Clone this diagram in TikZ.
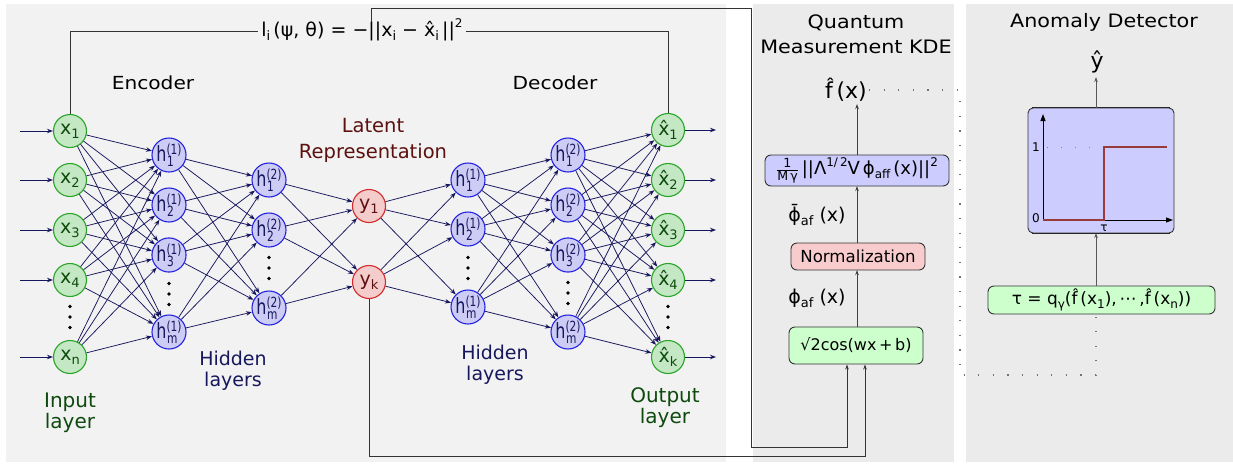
\documentclass[tikz,border=0pt]{standalone}
\usepackage{fontspec}
\usepackage{amsmath}
\setmainfont{DejaVu Sans}
\newfontfamily\wfont[FakeStretch=1.12]{DejaVu Sans}
\newfontfamily\cfont[FakeStretch=0.76]{DejaVu Sans}
\usetikzlibrary{arrows.meta}
\definecolor{pnlA}{HTML}{F2F2F2}
\definecolor{pnlB}{HTML}{EBEBEB}
\definecolor{gfill}{HTML}{C4E8C4}
\definecolor{gline}{HTML}{2AA52A}
\definecolor{bfill}{HTML}{CCCCF5}
\definecolor{bline}{HTML}{2323E0}
\definecolor{rfill}{HTML}{F4CCCC}
\definecolor{rline}{HTML}{D42A2A}
\definecolor{navy}{HTML}{17175E}
\definecolor{dgreen}{HTML}{0E4A0E}
\definecolor{dred}{HTML}{5C1010}
\definecolor{lav}{HTML}{CCCCFF}
\definecolor{pinkb}{HTML}{F8CCCC}
\definecolor{greenb}{HTML}{CCFFCC}
\definecolor{stepred}{HTML}{9A3B3B}
\newcommand{\lox}[2][13]{\raisebox{-0.2em}{\fontsize{#1}{#1}\selectfont #2}}
\newcommand{\upx}[2][12]{\raisebox{0.45em}{\fontsize{#1}{#1}\selectfont #2}}
\newcommand{\hlab}[2]{{\cfont h\rlap{\raisebox{-0.22em}{\fontsize{14}{14}\selectfont\kern0.5pt #2}}\raisebox{0.36em}{\fontsize{14}{14}\selectfont(#1)}}}
\newcommand{\vd}[2]{\foreach \dd in {-1,0,1}{\fill ({#1},{#2+10.5*\dd}) circle (1.9);}}
\begin{document}
\begin{tikzpicture}[x=1pt,y=-1pt,
 neuron/.style={circle,minimum size=33pt,inner sep=0pt,line width=1.1pt},
 gn/.style={neuron,fill=gfill,draw=gline,text=dgreen,font=\fontsize{19}{19}\selectfont},
 bn/.style={neuron,minimum size=34pt,fill=bfill,draw=bline,text=navy,font=\fontsize{21}{21}\selectfont},
 rn/.style={neuron,fill=rfill,draw=rline,text=dred,font=\fontsize{19}{19}\selectfont},
 net/.style={draw=navy,line width=0.75pt,-{Stealth[length=6pt,width=4.5pt]}},
 io/.style={draw=navy,line width=1pt,-{Stealth[length=6pt,width=4.5pt]}},
 lbl/.style={align=center,inner sep=0pt},
 mbox/.style={draw=black!80,rounded corners=6pt,line width=0.9pt,inner sep=0pt},
 arr/.style={draw=black!75,line width=0.9pt,-{Stealth[length=5pt,width=3.5pt]}},
 loopl/.style={draw=black!80,line width=0.85pt},
 dotl/.style={draw=black!55,line width=1.1pt,dash pattern=on 1.1pt off 13.5pt},
]
\useasboundingbox (0,0) rectangle (1233,464);
\fill[pnlA] (6,4) rectangle (726,462);
\fill[pnlB] (753,4) rectangle (954,462);
\fill[pnlB] (966,4) rectangle (1233,462);

% ---- network nodes
\node[gn] (i1) at (70,131) {x\lox{1}};
\node[gn] (i2) at (70,180) {x\lox{2}};
\node[gn] (i3) at (70,230) {x\lox{3}};
\node[gn] (i4) at (70,280) {x\lox{4}};
\node[gn] (i5) at (70,357) {x\lox{n}};
\vd{70}{317}
\node[bn] (a1) at (169,155) {\hlab{1}{1}};
\node[bn] (a2) at (169,205) {\hlab{1}{2}};
\node[bn] (a3) at (169,255) {\hlab{1}{3}};
\node[bn] (a4) at (169,332) {\hlab{1}{m}};
\vd{169}{294}
\node[bn] (b1) at (269,180) {\hlab{2}{1}};
\node[bn] (b2) at (269,230) {\hlab{2}{2}};
\node[bn] (b3) at (269,308) {\hlab{2}{m}};
\vd{269}{268}
\node[rn] (y1) at (369,206) {y\lox{1}};
\node[rn] (y2) at (369,282) {y\lox{k}};
\node[bn] (c1) at (468,180) {\hlab{1}{1}};
\node[bn] (c2) at (468,229) {\hlab{1}{2}};
\node[bn] (c3) at (468,307) {\hlab{1}{m}};
\vd{468}{268}
\node[bn] (d1) at (568,155) {\hlab{2}{1}};
\node[bn] (d2) at (568,205) {\hlab{2}{2}};
\node[bn] (d3) at (568,255) {\hlab{2}{3}};
\node[bn] (d4) at (568,332) {\hlab{2}{m}};
\vd{568}{293}
\node[gn] (o1) at (668,130) {\^x\lox{1}};
\node[gn] (o2) at (668,180) {\^x\lox{2}};
\node[gn] (o3) at (668,230) {\^x\lox{3}};
\node[gn] (o4) at (668,280) {\^x\lox{4}};
\node[gn] (o5) at (668,357) {\^x\lox{k}};
\vd{668}{317}

% ---- connections
\foreach \a in {1,...,5}{\foreach \b in {1,...,4}{\draw[net] (i\a) -- (a\b);}}
\foreach \a in {1,...,4}{\foreach \b in {1,2,3}{\draw[net] (a\a) -- (b\b);}}
\foreach \a in {1,2,3}{\foreach \b in {1,2}{\draw[net] (b\a) -- (y\b);}}
\foreach \a in {1,2}{\foreach \b in {1,2,3}{\draw[net] (y\a) -- (c\b);}}
\foreach \a in {1,2,3}{\foreach \b in {1,...,4}{\draw[net] (c\a) -- (d\b);}}
\foreach \a in {1,...,4}{\foreach \b in {1,...,5}{\draw[net] (d\a) -- (o\b);}}
\foreach \a/\y in {1/131,2/180,3/230,4/280,5/357}{
  \coordinate (s\a) at (20,\y);
  \draw[io] (s\a) -- (i\a.west);}
\foreach \a/\y in {1/130,2/180,3/230,4/280,5/357}{
  \coordinate (t\a) at (716,\y);
  \draw[io] (o\a.east) -- (t\a);}

% ---- labels
\node[lbl,font=\wfont\fontsize{18}{18}\selectfont] (enc) at (153,83) {Encoder};
\node[lbl,font=\wfont\fontsize{18}{18}\selectfont] (dec) at (555,83) {Decoder};
\node[lbl,text=dred,font=\fontsize{19.5}{26}\selectfont] (lat) at (373,140) {Latent\\Representation};
\node[lbl,text=navy,font=\fontsize{19}{21}\selectfont] (hid1) at (233,371) {Hidden\\layers};
\node[lbl,text=navy,font=\fontsize{19}{21}\selectfont] (hid2) at (495,365) {Hidden\\layers};
\node[lbl,text=dgreen,font=\fontsize{20}{21}\selectfont] (inl) at (70,413) {Input\\layer};
\node[lbl,text=dgreen,font=\fontsize{20}{21}\selectfont] (outl) at (665,408) {Output\\layer};

% ---- loss loop
\node[inner sep=3pt,font=\fontsize{19}{19}\selectfont] (loss) at (362,30)
  {l\lox[13]{i}\,(ψ, θ) = −||x\lox[13]{i} − \^x\lox[13]{i}\,||\upx{2}};
\coordinate (k1) at (70,31);
\coordinate (k2) at (668,31);
\draw[loopl] (i1.north) -- (k1) -- (k1 -| loss.west);
\draw[loopl] (k2 -| loss.east) -- (k2) -- (o1.north);

% ---- middle panel
\node[lbl,font=\wfont\fontsize{18.5}{25}\selectfont] (qt) at (856,34) {Quantum\\Measurement KDE};
\node[font=\fontsize{22}{22}\selectfont,inner sep=2pt] (fh) at (846,90) {\^f\,(x)};
\node[mbox,fill=lav,minimum width=184pt,minimum height=31pt,font=\fontsize{18}{18}\selectfont] (kde) at (857,170.5)
  {$\frac{\text{1}}{\text{M\,γ}}$\,||Λ\upx[12]{1/\,2}V\,ϕ\lox[12]{aff}\,(x)||\upx[12]{2}};
\node[font=\fontsize{19}{19}\selectfont] (pb) at (817,215) {\={ϕ}\lox[13]{af}\ (x)};
\node[mbox,fill=pinkb,minimum width=134pt,minimum height=27pt,font=\fontsize{16.6}{17}\selectfont] (norm) at (858,256.5) {Normalization};
\node[font=\fontsize{19}{19}\selectfont] (pa) at (817,298) {ϕ\lox[13]{af}\ (x)};
\node[mbox,fill=greenb,minimum width=134pt,minimum height=37pt,font=\fontsize{16}{17}\selectfont] (cosb) at (856,345.5) {√2cos(wx\,+\,b)};
\draw[arr] (857,327) -- (857,270);
\draw[arr] (857,243) -- (857,186);
\draw[arr] (857,155) -- (857,104);

% ---- feedback lines
\coordinate (f0) at (371,22);
\coordinate (f1) at (371,8);
\coordinate (f2) at (751,8);
\coordinate (f3) at (751,447);
\coordinate (f4) at (847,447);
\draw[loopl,-{Stealth[length=5pt,width=3.5pt]}] (f0) -- (f1) -- (f2) -- (f3) -- (f4) -- (f4 |- cosb.south);
\coordinate (g1) at (369,456);
\coordinate (g2) at (865,456);
\draw[loopl,-{Stealth[length=5pt,width=3.5pt]}] (y2.south) -- (g1) -- (g2) -- (g2 |- cosb.south);

% ---- right panel
\node[lbl,font=\wfont\fontsize{18.5}{19}\selectfont] (ad) at (1104,22) {Anomaly Detector};
\node[font=\fontsize{22}{22}\selectfont,inner sep=1pt] (yh) at (1097,62) {ŷ};
\node[mbox,fill=lav,minimum width=146pt,minimum height=125pt,rounded corners=5pt] (plot) at (1101,170.5) {};
\draw[black!85,line width=1.3pt] ([xshift=4pt]plot.north west) -- ([xshift=-4pt]plot.north east);
\draw[black!85,line width=1.3pt] ([xshift=4pt]plot.south west) -- ([xshift=-4pt]plot.south east);
\node[mbox,fill=greenb,minimum width=227pt,minimum height=28pt,font=\fontsize{17}{17}\selectfont] (tau) at (1101.5,300)
  {τ = q\lox[12]{γ}(\^f\,(x\lox[12]{1}),\,⋯\,,\^f\,(x\lox[12]{n}))};
\coordinate (O) at (1043,220);
\coordinate (YA) at (1043,114);
\coordinate (XA) at (1173,220);
\draw[line width=1pt,-{Triangle[length=7pt,width=5pt]}] (O) -- (YA);
\draw[line width=1pt,-{Triangle[length=7pt,width=5pt]}] (O) -- (XA);
\draw[black!50,line width=1pt,dash pattern=on 1pt off 13pt] (1047,147) -- (1102,147);
\draw[stepred,line width=1.2pt] (O) -- (1104,220) -- (1104,147) -- (1167,147);
\node[font=\fontsize{12}{12}\selectfont,inner sep=0pt] (one) at (1036,147) {1};
\node[font=\fontsize{12}{12}\selectfont,inner sep=0pt] (zero) at (1036,218) {0};
\node[font=\fontsize{12}{12}\selectfont,inner sep=0pt] (tl) at (1104,228) {τ};
\coordinate (d1) at (960,90);
\coordinate (d2) at (960,375);
\coordinate (d3) at (1096,375);
\draw[arr,black!65] (1096,286) -- (1096,233);
\draw[arr,black!65] (1096,108) -- (1096,77);
\draw[dotl] (fh.east) -- (d1) -- (d2) -- (d3) -- (d3 |- tau.south);
\end{tikzpicture}
\end{document}
